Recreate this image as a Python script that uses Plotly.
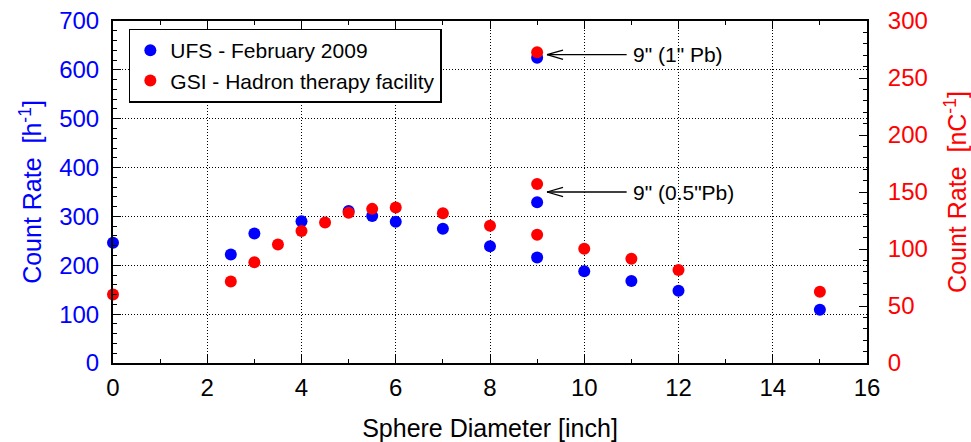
import plotly.graph_objects as go

# Sphere diameters [inch] and count rates
ufs_diam = [0, 2.5, 3, 4, 5, 5.5, 6, 7, 8, 9, 9, 9, 10, 11, 12, 15]
ufs_rate = [246, 222, 265, 290, 311, 301, 289, 275, 239, 216, 329, 625, 188, 168, 148, 109]  # h^-1

gsi_diam = [0, 2.5, 3, 3.5, 4, 4.5, 5, 5.5, 6, 7, 8, 9, 9, 9, 10, 11, 12, 15]
gsi_rate = [60, 71.4, 88.3, 104, 115.7, 123.3, 131.7, 135.2, 136.5, 131.4, 120.3,
            112.5, 157, 272.6, 100.2, 91.5, 81.6, 62.6]  # nC^-1

# Labels for the lead-shielded 9" sphere
pb_labels = ['9" (1" Pb)', '9" (0.5"Pb)']
pb_label_y = [631, 350]  # on the h^-1 axis

FONT = "Liberation Sans, Arial, Helvetica, sans-serif"
BLUE = "#0000ff"
RED = "#ff0000"

fig = go.Figure()
fig.add_trace(go.Scatter(
    x=ufs_diam, y=ufs_rate, mode="markers", name="UFS - February 2009",
    marker=dict(color=BLUE, size=12), cliponaxis=False, yaxis="y"))
fig.add_trace(go.Scatter(
    x=gsi_diam, y=gsi_rate, mode="markers", name="GSI - Hadron therapy facility",
    marker=dict(color=RED, size=12), cliponaxis=False, yaxis="y2"))

# Open-chevron arrows pointing to the shielded sphere points
shapes = []
annotations = []
tip_x, tail_x = 9.21, 10.9
head_dx, head_dy = 0.34, 9.6
for label, yv in zip(pb_labels, pb_label_y):
    line = dict(color="black", width=1.3)
    shapes.append(dict(type="line", xref="x", yref="y", x0=tip_x, x1=tail_x, y0=yv, y1=yv, line=line))
    shapes.append(dict(type="line", xref="x", yref="y", x0=tip_x, x1=tip_x + head_dx, y0=yv, y1=yv + head_dy, line=line))
    shapes.append(dict(type="line", xref="x", yref="y", x0=tip_x, x1=tip_x + head_dx, y0=yv, y1=yv - head_dy, line=line))
    annotations.append(dict(x=11.0, y=yv, xref="x", yref="y", text=label, showarrow=False,
                            xanchor="left", yanchor="middle",
                            font=dict(family=FONT, size=21, color="black")))

DOT = "1px,2px"
grid = dict(showgrid=True, gridcolor="black", gridwidth=1, griddash=DOT)

fig.update_layout(
    width=971, height=442,
    margin=dict(l=113, r=104, t=21, b=79),
    paper_bgcolor="white", plot_bgcolor="white",
    font=dict(family=FONT, size=24, color="black"),
    showlegend=True,
    legend=dict(x=0.021, y=0.978, xanchor="left", yanchor="top",
                bgcolor="white", bordercolor="black", borderwidth=1.5,
                font=dict(family=FONT, size=21, color="black"),
                itemsizing="constant", tracegroupgap=0),
    xaxis=dict(range=[0, 16], tickmode="linear", tick0=0, dtick=2,
               showline=True, linecolor="black", linewidth=2, mirror="ticks",
               ticks="inside", ticklen=8, tickwidth=1, tickcolor="black",
               minor=dict(dtick=1, ticks="inside", ticklen=4, tickcolor="black", showgrid=False),
               zeroline=False, automargin=False,
               tickfont=dict(size=24, color="black"), ticklabelstandoff=2,
               title=dict(text="Sphere Diameter [inch]", font=dict(size=25, color="black"), standoff=20),
               **grid),
    yaxis=dict(range=[0, 700], tickmode="linear", tick0=0, dtick=100,
               showline=True, linecolor="black", linewidth=2,
               ticks="inside", ticklen=8, tickwidth=1, tickcolor="black",
               minor=dict(dtick=20, ticks="inside", ticklen=4, tickcolor="black", showgrid=False),
               zeroline=False, automargin=False,
               tickfont=dict(size=24, color=BLUE), ticklabelstandoff=7,
               title=dict(text="Count Rate  [h<sup>-1</sup>]", font=dict(size=25, color=BLUE), standoff=10),
               **grid),
    yaxis2=dict(range=[0, 300], tickmode="linear", tick0=0, dtick=50,
                overlaying="y", side="right",
                showline=True, linecolor="black", linewidth=2,
                ticks="inside", ticklen=8, tickwidth=1, tickcolor="black",
                minor=dict(dtick=10, ticks="inside", ticklen=4, tickcolor="black", showgrid=False),
                zeroline=False, showgrid=False, automargin=False,
                tickfont=dict(size=24, color=RED), ticklabelstandoff=14,
                title=dict(text="Count Rate  [nC<sup>-1</sup>]", font=dict(size=25, color=RED), standoff=22)),
    shapes=shapes,
    annotations=annotations,
)

fig.write_html("out.html")
